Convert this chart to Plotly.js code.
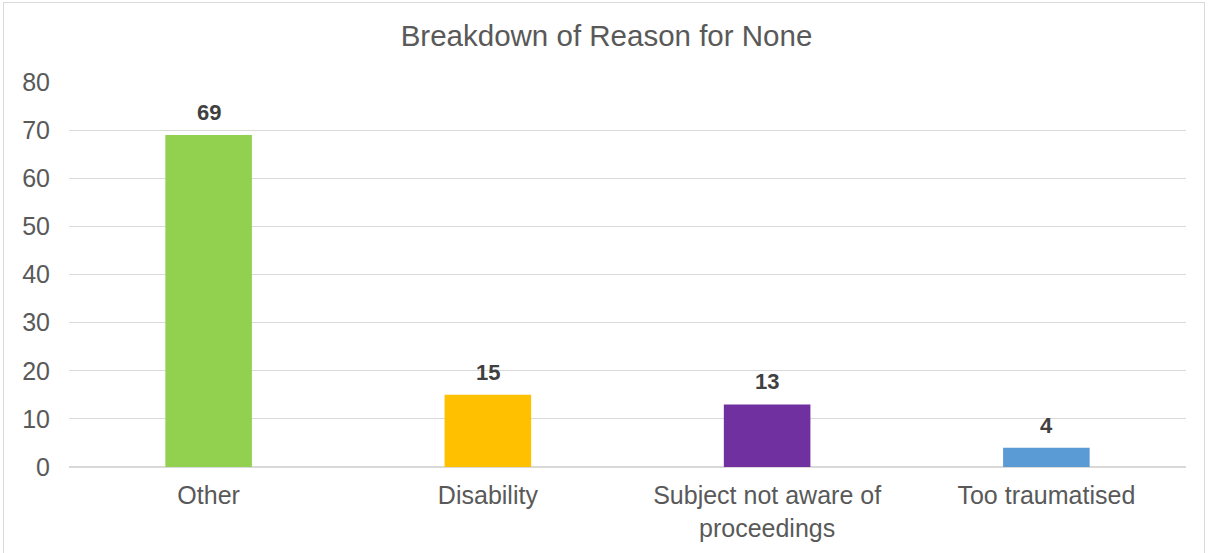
<!DOCTYPE html>
<html>
<head>
<meta charset="utf-8">
<script src="https://cdn.plot.ly/plotly-3.0.1.min.js"></script>
<style>
  html, body { margin: 0; padding: 0; background: #ffffff; }
  #chart { position: absolute; left: 0; top: 0; width: 1213px; height: 553px; }
  #frame { position: absolute; left: 3px; top: 2px; width: 1200px; height: 560px; border: 1px solid #D9D9D9; pointer-events: none; }
</style>
</head>
<body>
<div id="chart"></div>
<div id="frame"></div>
<script>
const categories = ["Other", "Disability", "Subject not aware of<br>proceedings", "Too traumatised"];
const values = [69, 15, 13, 4];
const barColors = ["#92D050", "#FFC000", "#7030A0", "#5B9BD5"];
const yTicks = [0, 10, 20, 30, 40, 50, 60, 70, 80];

const textColor = "#595959";
const fontFamily = "Liberation Sans, Arial, sans-serif";

const trace = {
  type: "bar",
  x: categories,
  y: values,
  marker: { color: barColors },
  hoverinfo: "x+y"
};

const annotations = categories.map((c, i) => ({
  x: c,
  y: values[i],
  xref: "x",
  yref: "y",
  text: "<b>" + values[i] + "</b>",
  showarrow: false,
  yanchor: "bottom",
  yshift: 8,
  font: { family: fontFamily, size: 22, color: "#404040" }
}));

const layout = {
  width: 1213,
  height: 553,
  margin: { l: 69, r: 27, t: 82, b: 86 },
  paper_bgcolor: "#ffffff",
  plot_bgcolor: "#ffffff",
  bargap: 0.69,
  showlegend: false,
  title: {
    text: "Breakdown of Reason for None",
    font: { family: fontFamily, size: 29.5, color: textColor },
    x: 0.5,
    xanchor: "center",
    y: 0.935,
    yanchor: "middle"
  },
  xaxis: {
    type: "category",
    showgrid: false,
    zeroline: false,
    showline: false,
    ticks: "",
    tickfont: { family: fontFamily, size: 25, color: textColor },
    ticklabelstandoff: 11
  },
  yaxis: {
    range: [0, 80],
    tickvals: yTicks,
    ticktext: yTicks.map(String),
    showgrid: true,
    gridcolor: "#D9D9D9",
    gridwidth: 1.2,
    zeroline: true,
    zerolinecolor: "#D9D9D9",
    zerolinewidth: 1.2,
    showline: false,
    ticks: "",
    tickfont: { family: fontFamily, size: 25, color: textColor },
    ticklabelstandoff: 18
  },
  annotations: annotations
};

Plotly.newPlot("chart", [trace], layout, { displayModeBar: false, staticPlot: true });
</script>
</body>
</html>
